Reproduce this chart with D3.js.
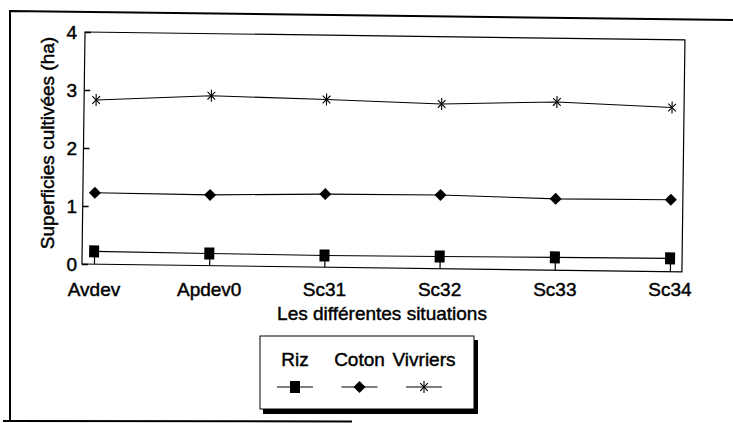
<!DOCTYPE html>
<html>
<head>
<meta charset="utf-8">
<script src="https://cdn.jsdelivr.net/npm/d3@7"></script>
<style>
  body { margin: 0; background: #fff; }
  text { font-family: "Liberation Sans", Arial, sans-serif; fill: #000; stroke: #000; stroke-width: 0.45px; }
</style>
</head>
<body>
<svg id="chart" width="733" height="423"></svg>
<script>
// situations on the x axis
var situations = ["Avdev", "Apdev0", "Sc31", "Sc32", "Sc33", "Sc34"];
// cultivated area (ha) per crop
var riz      = [0.22, 0.21, 0.20, 0.21, 0.22, 0.23];
var coton    = [1.23, 1.22, 1.26, 1.27, 1.23, 1.24];
var vivriers = [2.83, 2.93, 2.89, 2.84, 2.90, 2.83];
var yTicks = [0, 1, 2, 3, 4];
var seriesNames = ["Riz", "Coton", "Vivriers"];

var svg = d3.select("#chart");

var pLeft = 85, pRight = 685, pTop = 32, pBottom = 264;

var x = d3.scalePoint().domain(situations).range([97, 673]);
var y = d3.scaleLinear().domain([0, 4]).range([pBottom, pTop]);

// outer frame of the scanned figure
svg.append("path")
  .attr("d", "M10,421 L10,11 L733,20")
  .attr("fill", "none").attr("stroke", "#000").attr("stroke-width", 2);
svg.append("line")
  .attr("x1", 3).attr("y1", 421).attr("x2", 352).attr("y2", 421.5)
  .attr("stroke", "#000").attr("stroke-width", 2);

// the plot itself is slightly tilted in the scan
var plot = svg.append("g")
  .attr("transform", "rotate(0.75," + pLeft + "," + pTop + ")");

plot.append("rect")
  .attr("x", pLeft).attr("y", pTop)
  .attr("width", pRight - pLeft).attr("height", pBottom - pTop)
  .attr("fill", "none").attr("stroke", "#000").attr("stroke-width", 1.2);

// inward ticks
plot.append("g")
  .attr("transform", "translate(" + pLeft + ",0)")
  .call(d3.axisRight(y).tickValues(yTicks).tickSize(6).tickFormat(""))
  .call(g => g.select(".domain").remove())
  .selectAll("line").attr("stroke-width", 1.5);

plot.append("g")
  .attr("transform", "translate(0," + pBottom + ")")
  .call(d3.axisTop(x).tickSize(9).tickFormat(""))
  .call(g => g.select(".domain").remove())
  .selectAll("line").attr("stroke-width", 1.2);

var series = [
  { name: "Riz", values: riz },
  { name: "Coton", values: coton },
  { name: "Vivriers", values: vivriers }
];

var line = d3.line()
  .x((d, i) => x(situations[i]))
  .y(d => y(d));

function drawMarker(g, s, cx, cy) {
  if (s.name === "Riz") {
    g.append("rect")
      .attr("x", cx - 5).attr("y", cy - 6)
      .attr("width", 10).attr("height", 12)
      .attr("fill", "#000");
  } else if (s.name === "Coton") {
    g.append("path")
      .attr("transform", "translate(" + cx + "," + cy + ")")
      .attr("d", "M0,-6L6,0L0,6L-6,0Z")
      .attr("fill", "#000");
  } else {
    g.append("path")
      .attr("transform", "translate(" + cx + "," + cy + ")")
      .attr("d", d3.symbol(d3.symbolTimes, 40)())
      .attr("fill", "none").attr("stroke", "#000").attr("stroke-width", 1.1);
    g.append("line")
      .attr("x1", cx).attr("x2", cx).attr("y1", cy - 6).attr("y2", cy + 6)
      .attr("stroke", "#000").attr("stroke-width", 1.1);
  }
}

series.forEach(function(s) {
  plot.append("path")
    .datum(s.values)
    .attr("d", line)
    .attr("fill", "none").attr("stroke", "#000").attr("stroke-width", 1.1);
  s.values.forEach(function(v, i) {
    drawMarker(plot, s, x(situations[i]), y(v));
  });
});

// tick labels (not tilted in the scan)
svg.append("g").selectAll("text")
  .data(yTicks).enter().append("text")
  .attr("x", 77).attr("y", d => y(d) + 7)
  .attr("text-anchor", "end")
  .style("font-size", "19px")
  .text(d => d);

svg.append("g").selectAll("text")
  .data(situations).enter().append("text")
  .attr("x", d => x(d) - 3).attr("y", 296)
  .attr("text-anchor", "middle")
  .style("font-size", "19px")
  .text(d => d);

svg.append("text")
  .attr("x", 382).attr("y", 320)
  .attr("text-anchor", "middle")
  .style("font-size", "19px")
  .text("Les différentes situations");

svg.append("text")
  .attr("transform", "translate(54,143) rotate(-90)")
  .attr("text-anchor", "middle")
  .style("font-size", "19px")
  .text("Superficies cultivées (ha)");

// legend
var lg = svg.append("g");
lg.append("rect")
  .attr("x", 263).attr("y", 340).attr("width", 215).attr("height", 74)
  .attr("fill", "#000");
lg.append("rect")
  .attr("x", 260).attr("y", 336).attr("width", 214).attr("height", 73)
  .attr("fill", "#fff").attr("stroke", "#000").attr("stroke-width", 1);

var legendX = d3.scalePoint().domain(seriesNames).range([295, 424]);
series.forEach(function(s) {
  var cx = legendX(s.name);
  lg.append("text")
    .attr("x", cx).attr("y", 366)
    .attr("text-anchor", "middle")
    .style("font-size", "19px")
    .text(s.name);
  lg.append("line")
    .attr("x1", cx - 18).attr("x2", cx + 18).attr("y1", 387).attr("y2", 387)
    .attr("stroke", "#000").attr("stroke-width", 1.1);
  drawMarker(lg, s, cx, 387);
});
</script>
</body>
</html>
